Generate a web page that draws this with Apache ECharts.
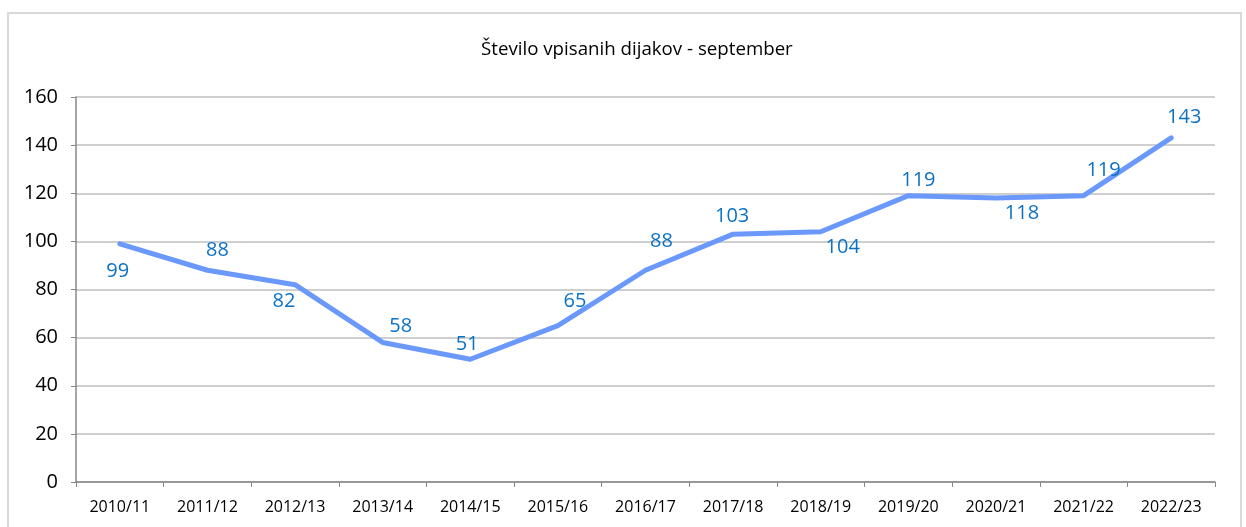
<!DOCTYPE html>
<html>
<head>
<meta charset="utf-8">
<script src="https://cdn.jsdelivr.net/npm/echarts@6/dist/echarts.min.js"></script>
<style>
  html, body { margin: 0; padding: 0; background: #fff; }
  #chart { width: 1246px; height: 527px; }
</style>
</head>
<body>
<div id="chart"></div>
<script>
// podatki
const years = ['2010/11', '2011/12', '2012/13', '2013/14', '2014/15', '2015/16', '2016/17',
  '2017/18', '2018/19', '2019/20', '2020/21', '2021/22', '2022/23']
const students = [99, 88, 82, 58, 51, 65, 88, 103, 104, 119, 118, 119, 143]
// zamik oznake glede na točko (kot v Excelu)
const labelShift = [[-2, 28], [10, -20], [-11, 17], [18, -16], [-3, -15], [17, -24], [16, -29],
  [-1, -18], [22, 16], [10, -15], [26, 15], [20, -25], [13, -21]]

const chart = echarts.init(document.getElementById('chart'))

const option = {
  animation: false,
  textStyle: { fontFamily: '"Open Sans", "DejaVu Sans", sans-serif' },
  title: {
    text: 'Število vpisanih dijakov - september',
    left: 476,
    top: 35,
    textStyle: { fontSize: 18.7, fontWeight: 'normal', color: '#000' }
  },
  graphic: [
    {
      type: 'rect',
      shape: { x: 8, y: 13, width: 1233, height: 530 },
      style: { fill: 'none', stroke: '#d9d9d9', lineWidth: 2 },
      silent: true
    }
  ],
  grid: { left: 76, right: 31, top: 97, bottom: 45 },
  xAxis: {
    type: 'category',
    data: years,
    boundaryGap: true,
    axisLine: { lineStyle: { color: '#878787', width: 1.5 } },
    axisTick: { show: true, length: 5, lineStyle: { color: '#878787' } },
    axisLabel: { color: '#000', fontSize: 16, margin: 17 }
  },
  yAxis: {
    type: 'value',
    min: 0,
    max: 160,
    interval: 20,
    axisLine: { show: true, lineStyle: { color: '#878787', width: 1.5 } },
    axisTick: { show: true, length: 5, lineStyle: { color: '#878787' } },
    axisLabel: { color: '#000', fontSize: 20, margin: 18 },
    splitLine: { lineStyle: { color: '#bfbfbf', width: 1.5 } }
  },
  series: [
    {
      type: 'line',
      data: students.map((v, i) => ({
        value: v,
        label: { offset: labelShift[i] }
      })),
      symbol: 'circle',
      symbolSize: 1,
      showSymbol: true,
      itemStyle: { color: '#6b98fb' },
      lineStyle: { color: '#6b98fb', width: 5, cap: 'round', join: 'round' },
      label: {
        show: true,
        position: 'inside',
        color: '#0b72c4',
        fontSize: 20
      }
    }
  ]
}

chart.setOption(option)
</script>
</body>
</html>
